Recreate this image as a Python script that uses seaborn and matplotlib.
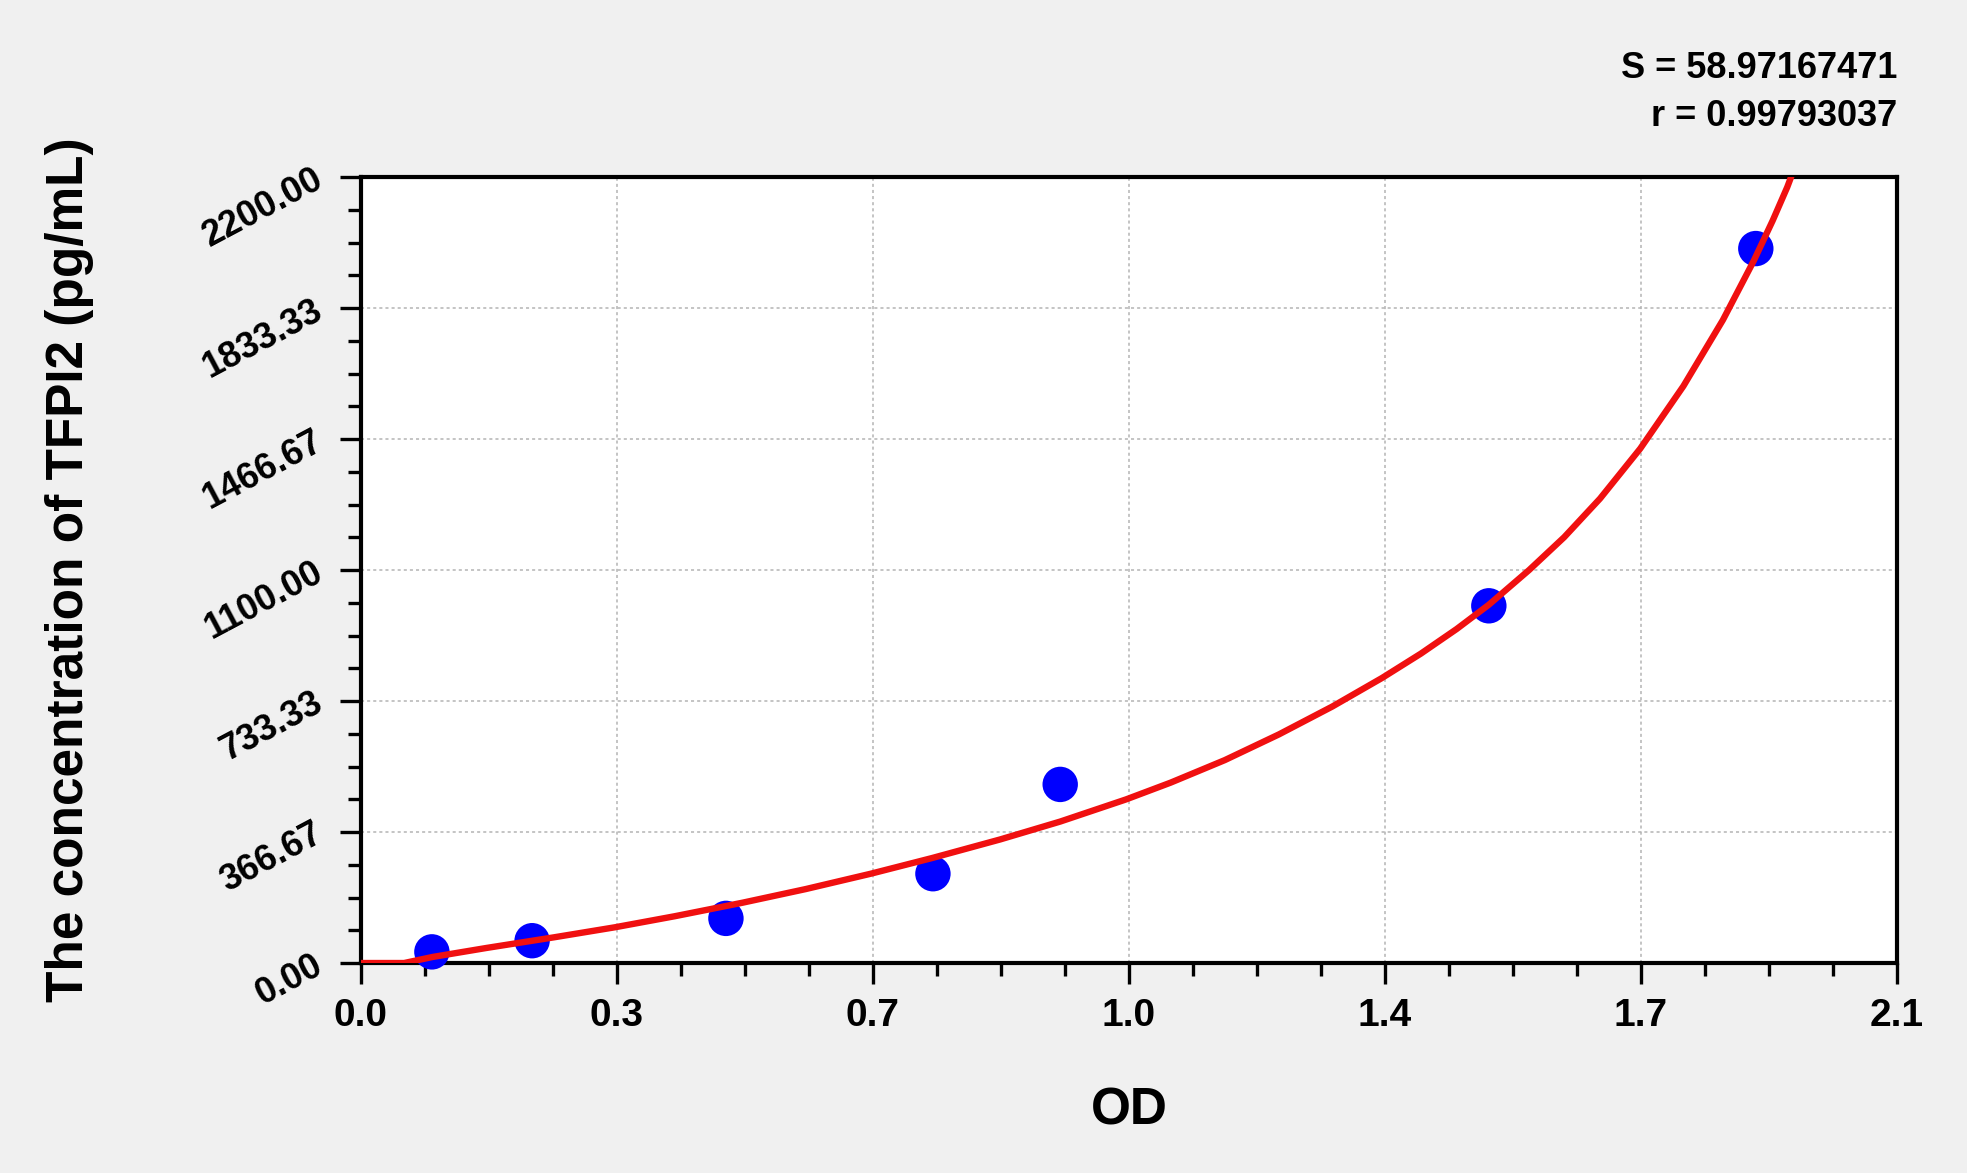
import numpy as np
import pandas as pd
import matplotlib
matplotlib.use("Agg")
import matplotlib.pyplot as plt
import seaborn as sns
from matplotlib.ticker import FixedLocator, MultipleLocator

# standards (OD vs concentration)
od_values = [0.097, 0.234, 0.499, 0.782, 0.956, 1.542, 1.907]
conc_values = [31.25, 62.5, 125, 250, 500, 1000, 2000]

# fitted curve
curve_od = [0.000, 0.059, 0.098, 0.171, 0.264, 0.347, 0.429, 0.522, 0.608, 0.697,
            0.781, 0.874, 0.956, 1.046, 1.107, 1.181, 1.255, 1.328, 1.396, 1.449,
            1.498, 1.542, 1.597, 1.645, 1.694, 1.749, 1.808, 1.862, 1.904, 1.930,
            1.950, 1.957]
curve_conc = [0, 0, 17, 42, 72, 100, 131, 169, 207, 250,
              294, 346, 396, 458, 505, 568, 640, 718, 798, 866,
              935, 1003, 1100, 1192, 1300, 1440, 1615, 1800, 1965, 2078,
              2172, 2210]

x_ticks = [0.0, 0.35, 0.7, 1.05, 1.4, 1.75, 2.1]
x_ticklabels = ["0.0", "0.3", "0.7", "1.0", "1.4", "1.7", "2.1"]
y_ticks = [0, 366.67, 733.33, 1100, 1466.67, 1833.33, 2200]
y_ticklabels = ["0.00", "366.67", "733.33", "1100.00", "1466.67", "1833.33", "2200.00"]

s_text = "S = 58.97167471"
r_text = "r = 0.99793037"

points = pd.DataFrame({"OD": od_values, "conc": conc_values})
curve = pd.DataFrame({"OD": curve_od, "conc": curve_conc})

sns.set_style("white")
plt.rcParams["font.family"] = ["Liberation Sans", "DejaVu Sans"]
plt.rcParams["text.color"] = "black"
plt.rcParams["axes.labelcolor"] = "black"
plt.rcParams["xtick.color"] = "black"
plt.rcParams["ytick.color"] = "black"
narrow = ["Liberation Sans Narrow", "Liberation Sans", "DejaVu Sans"]

fig = plt.figure(figsize=(19.67, 11.73), dpi=100, facecolor="#f0f0f0")
ax = fig.add_axes([0.1835, 0.179, 0.7809, 0.670])
ax.set_facecolor("white")

sns.scatterplot(data=points, x="OD", y="conc", ax=ax, s=650, color="#0000ff",
                edgecolor="none", zorder=3, clip_on=False)
sns.lineplot(data=curve, x="OD", y="conc", ax=ax, color="#f01010", linewidth=4.6,
             zorder=4, sort=False, estimator=None)

ax.set_xlim(0, 2.1)
ax.set_ylim(0, 2200)

ax.xaxis.set_major_locator(FixedLocator(x_ticks))
ax.xaxis.set_minor_locator(MultipleLocator(0.0875))
ax.yaxis.set_major_locator(FixedLocator(y_ticks))
ax.yaxis.set_minor_locator(MultipleLocator(2200 / 24))
ax.set_xticklabels(x_ticklabels)
ax.set_yticklabels(y_ticklabels)

ax.grid(True, which="major", color="#b4b4b4", lw=1.1, ls=(0, (2, 2)))
ax.set_axisbelow(True)

for sp in ax.spines.values():
    sp.set_visible(True)
    sp.set_color("black")
    sp.set_linewidth(3)

ax.tick_params(axis="both", which="major", direction="out", length=15, width=2.4,
               color="black", bottom=True, left=True)
ax.tick_params(axis="both", which="minor", direction="out", length=9.5, width=2.4,
               color="black", bottom=True, left=True)
ax.tick_params(axis="x", which="major", pad=10)
ax.tick_params(axis="y", which="major", pad=14)

for lab in ax.get_xticklabels():
    lab.set_fontfamily(narrow)
    lab.set_fontweight("bold")
    lab.set_fontsize(28)
for lab in ax.get_yticklabels():
    lab.set_fontweight("bold")
    lab.set_fontsize(26)
    lab.set_rotation(28)
    lab.set_rotation_mode("anchor")
    lab.set_ha("right")
    lab.set_va("center")

ax.set_xlabel("OD", fontsize=37, fontweight="bold", va="center")
ax.xaxis.set_label_coords(0.5, (963 - 1111) / 786)
ax.set_ylabel("The concentration of TFPI2 (pg/mL)", fontsize=37, fontweight="bold",
              va="center")
ax.yaxis.set_label_coords((70 - 361) / 1536, 0.5)

fig.text(0.9644, 1 - 68 / 1173, s_text, ha="right", va="center", fontsize=26,
         fontweight="bold", family=narrow)
fig.text(0.9644, 1 - 117 / 1173, r_text, ha="right", va="center", fontsize=26,
         fontweight="bold", family=narrow)

fig.savefig("out.png", dpi=100, facecolor=fig.get_facecolor())
